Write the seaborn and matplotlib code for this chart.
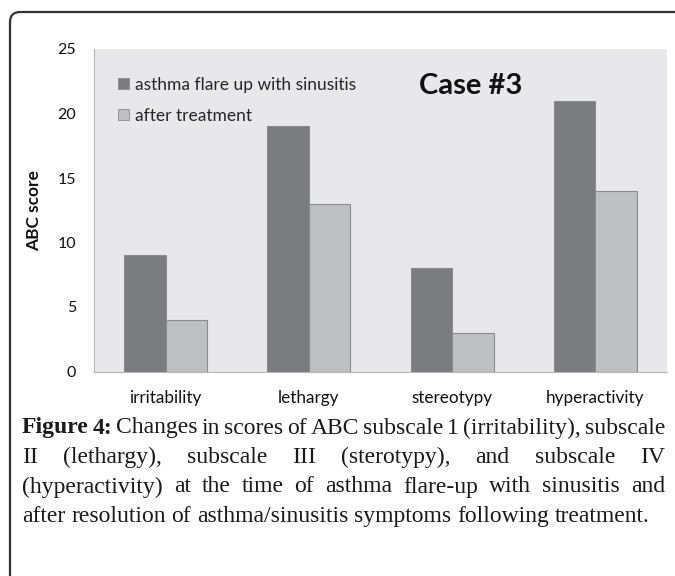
import matplotlib
matplotlib.use('Agg')
import matplotlib.pyplot as plt
import seaborn as sns
import pandas as pd
from matplotlib.patches import Patch, FancyBboxPatch

# Chart data
subscales = ['irritability', 'lethargy', 'stereotypy', 'hyperactivity']
flare_up = [9, 19, 8, 21]
after_treatment = [4, 13, 3, 14]
series_names = ['asthma flare up with sinusitis', 'after treatment']
bar_colors = ['#7b7c80', '#bebfc1']
y_ticks = [0, 5, 10, 15, 20, 25]

caption_lines = [
    'Figure 4: Changes in scores of ABC subscale 1 (irritability), subscale',
    'II (lethargy), subscale III (sterotypy), and subscale IV',
    '(hyperactivity) at the time of asthma flare-up with sinusitis and',
    'after resolution of asthma/sinusitis symptoms following treatment.',
]

df = pd.DataFrame({
    'subscale': subscales * 2,
    'score': flare_up + after_treatment,
    'state': [series_names[0]] * len(subscales) + [series_names[1]] * len(subscales),
})

sns.set_style('white')
plt.rcParams['font.family'] = ['Lato', 'DejaVu Sans']

W, H = 675, 576
fig = plt.figure(figsize=(W / 100, H / 100), dpi=100)
ax = fig.add_axes([94 / W, (H - 371.5) / H, 573 / W, 322.5 / H])

sns.barplot(data=df, x='subscale', y='score', hue='state', palette=bar_colors,
            saturation=1, width=0.58, gap=0, edgecolor='#8c8c8c', linewidth=0.8,
            ax=ax, legend=False)

ax.set_facecolor('#e8e8ea')
ax.set_xlim(-0.5, len(subscales) - 0.5)
ax.set_ylim(0, 25)
ax.set_yticks(y_ticks)
ax.set_xlabel('')
ax.set_ylabel('ABC score', fontsize=12.5, fontweight='bold', color='#111111')
ax.yaxis.set_label_coords(-0.091, 0.5)

for side in ['top', 'right']:
    ax.spines[side].set_visible(False)
for side in ['left', 'bottom']:
    ax.spines[side].set_color('#b5b5b5')
    ax.spines[side].set_linewidth(0.8)

ax.tick_params(axis='y', length=5, color='#b5b5b5', pad=8, labelsize=11.5, labelcolor='#111111')
ax.tick_params(axis='x', which='major', length=0, pad=13, labelsize=12.3, labelcolor='#111111')
ax.set_xticks([i - 0.5 for i in range(len(subscales) + 1)], minor=True)
ax.tick_params(axis='x', which='minor', length=6, color='#b5b5b5')

handles = [Patch(facecolor=c, edgecolor='#8c8c8c', linewidth=0.6) for c in bar_colors]
ax.legend(handles, series_names, loc='upper left', bbox_to_anchor=(0.03, 0.935),
          frameon=False, fontsize=12.5, handlelength=0.6, handleheight=0.6,
          handletextpad=0.35, labelspacing=0.85, borderaxespad=0)

ax.text(0.658, 0.885, 'Case #3', transform=ax.transAxes, ha='center', va='center',
        fontsize=21, fontweight='bold', color='#111111')

# Outer rounded frame
frame = FancyBboxPatch((10 / 100, -1.0), 8.0, (H - 12) / 100 + 1.0,
                       boxstyle='round,pad=0,rounding_size=0.1',
                       transform=fig.dpi_scale_trans, fill=False,
                       edgecolor='#333333', linewidth=1.6)
fig.add_artist(frame)

# Justified caption
renderer = fig.canvas.get_renderer()
x_left, x_right = 22, 665
line_y0, line_step = 428, 29.5
cap_font = dict(family=['Liberation Serif', 'DejaVu Serif'], fontsize=17, color='#1a1a1a')
probe_a = fig.text(0, 0, 'a a', **cap_font)
probe_b = fig.text(0, 0, 'aa', **cap_font)
space_w = probe_a.get_window_extent(renderer).width - probe_b.get_window_extent(renderer).width
probe_a.remove()
probe_b.remove()

for li, line in enumerate(caption_lines):
    words = line.split(' ')
    y = (H - (line_y0 + li * line_step)) / H
    texts = []
    for wi, w in enumerate(words):
        bold = li == 0 and wi < 2
        t = fig.text(0, y, w, ha='left', va='center',
                     fontweight='bold' if bold else 'normal', **cap_font)
        texts.append(t)
    widths = [t.get_window_extent(renderer).width for t in texts]
    if li < len(caption_lines) - 1:
        gap = max((x_right - x_left - sum(widths)) / (len(words) - 1), space_w * 0.6)
    else:
        gap = space_w
    x = x_left
    for t, w in zip(texts, widths):
        t.set_x(x / W)
        x += w + gap

fig.savefig('out.png', dpi=100)
